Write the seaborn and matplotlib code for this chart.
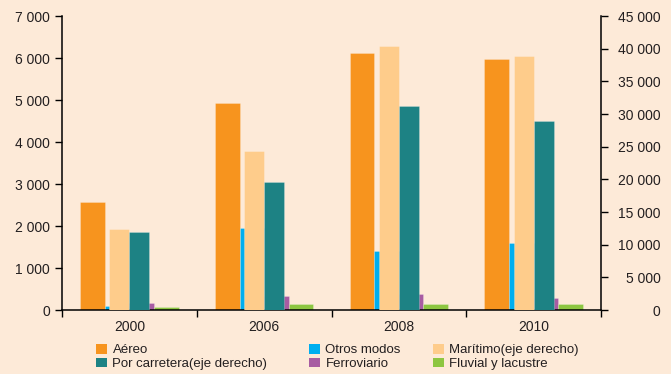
import matplotlib
matplotlib.use("Agg")
import matplotlib.pyplot as plt
import pandas as pd
import seaborn as sns
from matplotlib.patches import Patch
from matplotlib.ticker import FuncFormatter, FixedLocator, MultipleLocator

# Data (left axis: Aéreo, Otros modos, Ferroviario, Fluvial; right axis: Marítimo, Carretera)
years = ["2000", "2006", "2008", "2010"]
aereo = [2570, 4930, 6120, 5985]
otros_modos = [90, 1950, 1410, 1600]
ferroviario = [160, 335, 380, 285]
fluvial = [70, 145, 145, 145]
maritimo = [12400, 24350, 40400, 38900]
carretera = [11950, 19550, 31200, 28950]

labels = {
    "aereo": "Aéreo",
    "otros": "Otros modos",
    "maritimo": "Marítimo(eje derecho)",
    "carretera": "Por carretera(eje derecho)",
    "ferro": "Ferroviario",
    "fluvial": "Fluvial y lacustre",
}
colors = {
    "aereo": "#F7941E",
    "otros": "#00AEEF",
    "maritimo": "#FECC8B",
    "carretera": "#1D8284",
    "ferro": "#A85CA2",
    "fluvial": "#8DC641",
}

bg = "#FDEAD8"
text_col = "#231F20"

sns.set_theme(style="white")
plt.rcParams["font.family"] = ["Liberation Sans", "DejaVu Sans"]
plt.rcParams["text.color"] = text_col

left_keys = ["aereo", "otros", "ferro", "fluvial"]
left_vals = [aereo, otros_modos, ferroviario, fluvial]
right_keys = ["maritimo", "carretera"]
right_vals = [maritimo, carretera]

df_left = pd.DataFrame(
    [(y, labels[k], v) for k, vals in zip(left_keys, left_vals) for y, v in zip(years, vals)],
    columns=["year", "serie", "value"],
)
df_right = pd.DataFrame(
    [(y, labels[k], v) for k, vals in zip(right_keys, right_vals) for y, v in zip(years, vals)],
    columns=["year", "serie", "value"],
)

fig = plt.figure(figsize=(6.71, 3.74), dpi=100, facecolor=bg)
ax = fig.add_axes([62 / 671, 1 - 310 / 374, (601 - 62) / 671, (310 - 16) / 374])
ax.set_facecolor(bg)
ax2 = ax.twinx()

edge = (1, 1, 1, 0.3)
sns.barplot(
    data=df_left, x="year", y="value", hue="serie",
    order=years, hue_order=[labels[k] for k in left_keys],
    palette=[colors[k] for k in left_keys],
    width=0.73, saturation=1, legend=False, ax=ax,
    edgecolor=edge, linewidth=0.5,
)
sns.barplot(
    data=df_right, x="year", y="value", hue="serie",
    order=years, hue_order=[labels[k] for k in right_keys],
    palette=[colors[k] for k in right_keys],
    width=0.295, saturation=1, legend=False, ax=ax2,
    edgecolor=edge, linewidth=0.5,
)

fmt = FuncFormatter(lambda v, p: f"{int(v):,}".replace(",", " "))

ax.set_xlim(-0.5, len(years) - 0.5)
ax.set_ylim(0, 7000)
ax2.set_ylim(0, 45000)
ax.yaxis.set_major_locator(MultipleLocator(1000))
ax2.yaxis.set_major_locator(MultipleLocator(5000))
ax.yaxis.set_major_formatter(fmt)
ax2.yaxis.set_major_formatter(fmt)

ax.set_xlabel("")
ax.set_ylabel("")
ax2.set_xlabel("")
ax2.set_ylabel("")

ax.xaxis.set_major_locator(FixedLocator(range(len(years))))
ax.set_xticklabels(years)
ax.xaxis.set_minor_locator(FixedLocator([i - 0.5 for i in range(len(years) + 1)]))

ax.tick_params(axis="x", which="major", length=0, pad=7, labelsize=10, labelcolor=text_col)
ax.tick_params(axis="x", which="minor", length=5, width=1, color="black", direction="out", bottom=True)
ax.tick_params(axis="y", length=5, width=1, color="black", direction="out", left=True,
               pad=3.6, labelsize=10, labelcolor=text_col)
ax2.tick_params(axis="y", length=5, width=1, color="black", direction="out", right=True,
                pad=38, labelsize=10, labelcolor=text_col)
for lbl in ax2.get_yticklabels():
    lbl.set_horizontalalignment("right")

for a in (ax, ax2):
    a.spines["top"].set_visible(False)
    for s in ("left", "right", "bottom"):
        a.spines[s].set_color("black")
        a.spines[s].set_linewidth(1.1)
ax.spines["right"].set_visible(False)
ax2.spines["left"].set_visible(False)
ax2.spines["bottom"].set_visible(False)
ax.grid(False)
ax2.grid(False)

# Legend in three columns, two rows
columns = [("aereo", "carretera"), ("otros", "ferro"), ("maritimo", "fluvial")]
col_x = [96, 309, 433]
for keys, x in zip(columns, col_x):
    handles = [Patch(facecolor=colors[k], edgecolor="none", label=labels[k]) for k in keys]
    fig.legend(
        handles=handles, loc="upper left",
        bbox_to_anchor=(x / 671, 1 - 344 / 374),
        frameon=False, fontsize=9.5, handlelength=0.85, handleheight=0.75,
        handletextpad=0.4, labelspacing=0.1, borderpad=0, borderaxespad=0,
    )

fig.savefig("out.png", dpi=100, facecolor=bg)
